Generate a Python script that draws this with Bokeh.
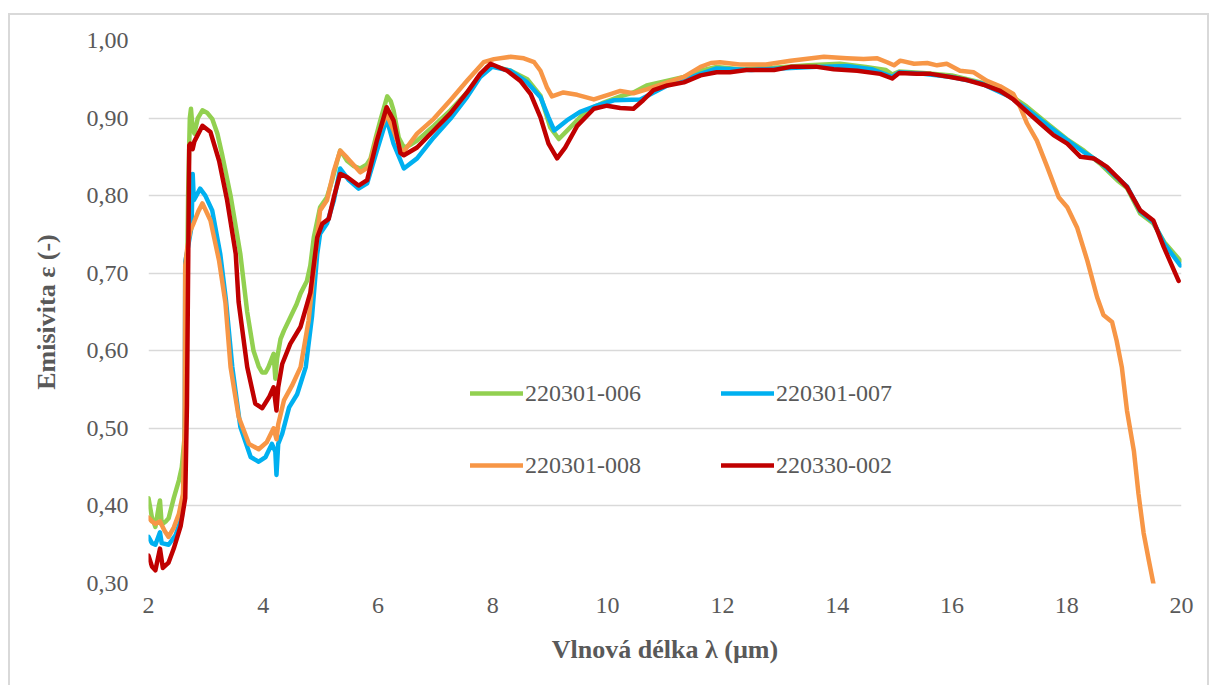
from bokeh.plotting import figure
from bokeh.models import Legend, LegendItem, FixedTicker, CustomJSTickFormatter
from bokeh.embed import file_html
from bokeh.resources import INLINE

# ---------------- data ----------------
SERIES_NAMES = ["220301-006", "220301-007", "220301-008", "220330-002"]

wl_006 = [2.00, 2.06, 2.12, 2.18, 2.20, 2.23, 2.30, 2.35, 2.44, 2.53, 2.58, 2.63, 2.66, 2.69,
          2.72, 2.74, 2.77, 2.80, 2.86, 2.94, 3.02, 3.11, 3.20, 3.28, 3.43, 3.60, 3.72, 3.83,
          3.92, 3.98, 4.04, 4.09, 4.18, 4.21, 4.24, 4.30, 4.36, 4.47, 4.58, 4.65, 4.76, 4.82,
          4.88, 4.99, 5.11, 5.20, 5.29, 5.34, 5.40, 5.46, 5.58, 5.69, 5.80, 5.87, 5.96, 6.04,
          6.16, 6.22, 6.27, 6.36, 6.45, 6.55, 6.68, 6.97, 7.26, 7.55, 7.90, 8.00, 8.31, 8.60,
          8.83, 9.00, 9.15, 9.35, 9.64, 9.93, 10.22, 10.45, 10.68, 10.97, 11.33, 11.62, 11.90,
          12.30, 12.90, 13.50, 14.05, 14.50, 14.85, 14.96, 15.08, 15.50, 16.00, 16.50, 17.00,
          17.30, 17.71, 18.00, 18.30, 18.60, 18.88, 19.05, 19.28, 19.51, 19.70, 19.98]
em_006 = [0.410, 0.385, 0.373, 0.400, 0.407, 0.376, 0.380, 0.384, 0.410, 0.433, 0.450, 0.490,
          0.600, 0.800, 0.900, 0.912, 0.885, 0.880, 0.900, 0.910, 0.907, 0.899, 0.880, 0.854,
          0.800, 0.725, 0.650, 0.600, 0.580, 0.572, 0.572, 0.579, 0.596, 0.564, 0.590, 0.615,
          0.626, 0.643, 0.660, 0.674, 0.690, 0.710, 0.746, 0.785, 0.798, 0.820, 0.845, 0.858,
          0.852, 0.845, 0.838, 0.835, 0.840, 0.848, 0.875, 0.897, 0.928, 0.922, 0.910, 0.875,
          0.862, 0.865, 0.871, 0.890, 0.910, 0.933, 0.966, 0.967, 0.961, 0.950, 0.929, 0.888,
          0.873, 0.888, 0.910, 0.920, 0.928, 0.933, 0.942, 0.947, 0.953, 0.961, 0.966, 0.963,
          0.965, 0.968, 0.970, 0.966, 0.962, 0.956, 0.960, 0.958, 0.955, 0.946, 0.930, 0.915,
          0.890, 0.873, 0.858, 0.840, 0.820, 0.810, 0.777, 0.764, 0.740, 0.716]

wl_007 = [2.00, 2.06, 2.12, 2.20, 2.23, 2.35, 2.47, 2.58, 2.63, 2.64, 2.68, 2.75, 2.77, 2.79,
          2.90, 2.99, 3.11, 3.25, 3.35, 3.46, 3.60, 3.78, 3.92, 4.04, 4.15, 4.21, 4.23, 4.26,
          4.33, 4.45, 4.59, 4.74, 4.85, 4.94, 4.99, 5.11, 5.23, 5.34, 5.49, 5.66, 5.81, 5.98,
          6.15, 6.27, 6.45, 6.68, 6.97, 7.26, 7.55, 7.78, 7.99, 8.31, 8.60, 8.83, 8.97, 9.07,
          9.29, 9.52, 9.81, 10.11, 10.57, 11.04, 11.62, 11.90, 12.50, 13.00, 13.65, 14.17,
          14.60, 14.96, 15.08, 15.50, 16.00, 16.50, 17.00, 17.30, 17.71, 18.00, 18.30, 18.60,
          18.88, 19.05, 19.28, 19.51, 19.70, 19.98]
em_007 = [0.360, 0.352, 0.350, 0.366, 0.352, 0.350, 0.362, 0.385, 0.420, 0.715, 0.730, 0.760,
          0.828, 0.794, 0.809, 0.800, 0.781, 0.725, 0.665, 0.579, 0.502, 0.463, 0.457, 0.463,
          0.480, 0.470, 0.440, 0.480, 0.493, 0.527, 0.544, 0.579, 0.645, 0.725, 0.751, 0.764,
          0.794, 0.835, 0.820, 0.809, 0.816, 0.858, 0.899, 0.867, 0.835, 0.848, 0.875, 0.899,
          0.927, 0.953, 0.966, 0.961, 0.946, 0.927, 0.901, 0.884, 0.897, 0.908, 0.916, 0.923,
          0.924, 0.942, 0.957, 0.964, 0.962, 0.964, 0.966, 0.967, 0.963, 0.953, 0.959, 0.957,
          0.953, 0.945, 0.928, 0.912, 0.888, 0.872, 0.856, 0.842, 0.823, 0.812, 0.780, 0.766,
          0.738, 0.710]

wl_008 = [2.00, 2.06, 2.12, 2.20, 2.28, 2.35, 2.44, 2.53, 2.60, 2.63, 2.64, 2.68, 2.73, 2.79,
          2.87, 2.94, 3.08, 3.23, 3.34, 3.43, 3.57, 3.75, 3.92, 4.06, 4.18, 4.23, 4.26, 4.36,
          4.50, 4.65, 4.79, 4.91, 4.99, 5.11, 5.23, 5.34, 5.46, 5.69, 5.84, 5.98, 6.15, 6.27,
          6.39, 6.45, 6.68, 6.97, 7.26, 7.55, 7.84, 8.02, 8.31, 8.54, 8.72, 8.83, 8.94, 9.03,
          9.23, 9.47, 9.76, 10.05, 10.22, 10.45, 10.68, 11.04, 11.33, 11.62, 11.80, 11.96,
          12.30, 12.76, 13.19, 13.77, 14.17, 14.46, 14.70, 14.87, 14.99, 15.10, 15.34, 15.57,
          15.74, 15.91, 16.14, 16.38, 16.61, 16.84, 17.07, 17.19, 17.31, 17.48, 17.66, 17.86,
          18.01, 18.18, 18.36, 18.53, 18.64, 18.79, 18.87, 18.96, 19.05, 19.17, 19.25, 19.34,
          19.43, 19.51, 19.60]
em_008 = [0.385, 0.380, 0.377, 0.380, 0.368, 0.360, 0.372, 0.390, 0.415, 0.500, 0.710, 0.735,
          0.755, 0.765, 0.780, 0.790, 0.768, 0.716, 0.662, 0.579, 0.515, 0.480, 0.473, 0.482,
          0.500, 0.486, 0.505, 0.536, 0.555, 0.579, 0.639, 0.725, 0.781, 0.794, 0.832, 0.858,
          0.849, 0.830, 0.837, 0.875, 0.905, 0.884, 0.860, 0.857, 0.880, 0.899, 0.923, 0.948,
          0.972, 0.976, 0.979, 0.977, 0.972, 0.961, 0.940, 0.928, 0.933, 0.930, 0.924, 0.931,
          0.935, 0.932, 0.937, 0.946, 0.953, 0.966, 0.971, 0.972, 0.969, 0.969, 0.974, 0.979,
          0.977, 0.976, 0.977, 0.972, 0.968, 0.974, 0.970, 0.971, 0.968, 0.970, 0.961, 0.959,
          0.948, 0.941, 0.931, 0.914, 0.893, 0.871, 0.837, 0.798, 0.785, 0.759, 0.716, 0.669,
          0.646, 0.637, 0.613, 0.579, 0.523, 0.471, 0.416, 0.365, 0.330, 0.300, 0.260]

wl_002 = [2.00, 2.06, 2.12, 2.20, 2.25, 2.35, 2.44, 2.56, 2.64, 2.67, 2.69, 2.71, 2.73, 2.77,
          2.80, 2.94, 3.08, 3.23, 3.37, 3.52, 3.57, 3.72, 3.86, 3.98, 4.10, 4.18, 4.23, 4.26,
          4.33, 4.47, 4.65, 4.82, 4.94, 5.03, 5.14, 5.23, 5.34, 5.46, 5.66, 5.81, 5.98, 6.15,
          6.27, 6.39, 6.45, 6.68, 6.97, 7.26, 7.55, 7.78, 7.96, 8.25, 8.48, 8.66, 8.83, 8.97,
          9.12, 9.26, 9.47, 9.76, 9.99, 10.22, 10.45, 10.62, 10.80, 11.04, 11.33, 11.62, 11.90,
          12.13, 12.42, 12.90, 13.19, 13.65, 13.94, 14.35, 14.75, 14.96, 15.08, 15.39, 15.63,
          15.97, 16.26, 16.55, 16.84, 17.07, 17.31, 17.54, 17.77, 18.01, 18.24, 18.47, 18.70,
          18.88, 19.05, 19.28, 19.51, 19.69, 19.95]
em_002 = [0.336, 0.322, 0.317, 0.345, 0.320, 0.327, 0.345, 0.374, 0.410, 0.530, 0.700, 0.865,
          0.867, 0.860, 0.870, 0.890, 0.882, 0.845, 0.794, 0.725, 0.663, 0.579, 0.532, 0.526,
          0.540, 0.553, 0.523, 0.553, 0.583, 0.609, 0.631, 0.675, 0.746, 0.764, 0.770, 0.798,
          0.828, 0.824, 0.813, 0.820, 0.871, 0.914, 0.897, 0.855, 0.852, 0.862, 0.884, 0.906,
          0.933, 0.957, 0.970, 0.961, 0.948, 0.931, 0.901, 0.867, 0.848, 0.862, 0.890, 0.912,
          0.916, 0.913, 0.912, 0.923, 0.936, 0.942, 0.946, 0.955, 0.959, 0.959, 0.962, 0.962,
          0.966, 0.966, 0.963, 0.961, 0.957, 0.951, 0.958, 0.957, 0.957, 0.953, 0.949, 0.943,
          0.935, 0.924, 0.908, 0.893, 0.878, 0.867, 0.850, 0.848, 0.837, 0.824, 0.811, 0.781,
          0.768, 0.734, 0.690]

X_TICKS = [2, 4, 6, 8, 10, 12, 14, 16, 18, 20]
Y_TICKS = [0.3, 0.4, 0.5, 0.6, 0.7, 0.8, 0.9, 1.0]
X_TITLE = "Vlnová délka λ (µm)"
Y_TITLE = "Emisivita ε (-)"

COLORS = ["#92D050", "#00B0F0", "#F79646", "#C00000"]
FONT = "Liberation Serif, DejaVu Serif, serif"
TXT = "#595959"

# ---------------- figure ----------------
p = figure(width=1201, height=672, x_range=(2, 20), y_range=(0.3, 1.0),
           output_backend="svg", toolbar_location=None,
           min_border_left=138, min_border_right=30, min_border_top=25, min_border_bottom=104)
p.styles = {"margin-left": "8px", "margin-top": "13px",
            "border-left": "2px solid #D9D9D9", "border-top": "2px solid #D9D9D9",
            "border-right": "2px solid #D9D9D9"}
p.outline_line_color = None
p.background_fill_color = "white"
p.border_fill_color = "white"

p.xgrid.visible = False
p.ygrid.grid_line_color = "#D9D9D9"
p.ygrid.grid_line_width = 1.5

p.xaxis.ticker = FixedTicker(ticks=X_TICKS)
p.yaxis.ticker = FixedTicker(ticks=Y_TICKS)
p.yaxis.formatter = CustomJSTickFormatter(code="return tick.toFixed(2).replace('.', ',');")

for ax in (p.xaxis[0], p.yaxis[0]):
    ax.axis_line_color = None
    ax.major_tick_line_color = None
    ax.minor_tick_line_color = None
    ax.major_tick_out = 0
    ax.major_tick_in = 0
    ax.major_label_text_font = FONT
    ax.major_label_text_font_size = "24px"
    ax.major_label_text_color = TXT
    ax.axis_label_text_font = FONT
    ax.axis_label_text_font_size = "26px"
    ax.axis_label_text_font_style = "bold"
    ax.axis_label_text_color = TXT

p.xaxis.axis_label = X_TITLE
p.yaxis.axis_label = Y_TITLE
p.xaxis.major_label_standoff = 14
p.yaxis.major_label_standoff = 20
p.xaxis.axis_label_standoff = 19
p.yaxis.axis_label_standoff = 23

series = [(wl_006, em_006), (wl_007, em_007), (wl_008, em_008), (wl_002, em_002)]
renderers = []
for (xs, ys), col in zip(series, COLORS):
    r = p.line(xs, ys, line_color=col, line_width=4.5, line_join="round", line_cap="round")
    renderers.append(r)

items = [LegendItem(label=n, renderers=[r]) for n, r in zip(SERIES_NAMES, renderers)]
legend = Legend(items=items, location=(322, 104), orientation="horizontal", ncols=2,
                glyph_width=53, glyph_height=28, label_height=28, label_width=152,
                label_standoff=2, spacing=44, padding=0, margin=0,
                border_line_color=None, background_fill_alpha=0,
                label_text_font=FONT, label_text_font_size="24px", label_text_color=TXT)
p.add_layout(legend, "center")

open("out.html", "w").write(file_html(p, INLINE))
